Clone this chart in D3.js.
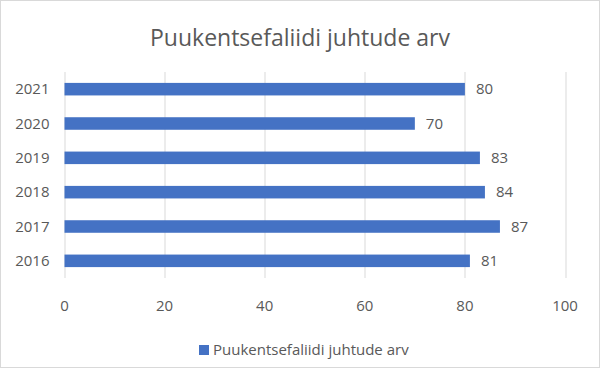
<!DOCTYPE html>
<html>
<head>
<meta charset="utf-8">
<script src="https://cdn.jsdelivr.net/npm/d3@7"></script>
<style>
  body { margin: 0; background: #fff; }
  text { font-family: "Segoe UI", "Open Sans", sans-serif; fill: #595959; }
</style>
</head>
<body>
<div id="chart-area"></div>
<script>
// data
var years = ["2016", "2017", "2018", "2019", "2020", "2021"];
var cases = [81, 87, 84, 83, 70, 80];
var xTicks = [0, 20, 40, 60, 80, 100];
var seriesName = "Puukentsefaliidi juhtude arv";
var chartTitle = "Puukentsefaliidi juhtude arv";

var W = 600, H = 368;
var margin = {top: 72, bottom: 90, right: 35, left: 64.5};
var width = 565 - margin.left;
var height = 278 - margin.top;

var svg = d3.select("#chart-area")
  .append("svg")
  .attr("width", W)
  .attr("height", H);

// outer border
svg.append("rect")
  .attr("x", 0.5).attr("y", 0.5)
  .attr("width", W - 1).attr("height", H - 1)
  .attr("fill", "#fff")
  .attr("stroke", "#d9d9d9");

svg.append("text")
  .attr("x", W / 2)
  .attr("y", 46)
  .attr("text-anchor", "middle")
  .attr("font-size", "23px")
  .text(chartTitle);

var g = svg.append("g")
  .attr("transform", "translate(" + margin.left + "," + margin.top + ")");

var x = d3.scaleLinear().domain([0, 100]).range([0, width]);
var y = d3.scaleBand()
  .domain(years.slice().reverse())
  .range([0, height])
  .paddingInner(0.635)
  .paddingOuter(0.3175);

// gridlines
g.append("g")
  .selectAll("line")
  .data(xTicks)
  .enter()
  .append("line")
  .attr("x1", function(d) { return Math.round(x(d)) + 0.5; })
  .attr("x2", function(d) { return Math.round(x(d)) + 0.5; })
  .attr("y1", 0)
  .attr("y2", height)
  .attr("stroke", "#d9d9d9")
  .attr("stroke-width", 1);

// x tick labels
g.append("g")
  .selectAll("text")
  .data(xTicks)
  .enter()
  .append("text")
  .attr("x", function(d) { return x(d); })
  .attr("y", height + 33)
  .attr("text-anchor", "middle")
  .attr("font-size", "15px")
  .text(function(d) { return d; });

// y labels
g.append("g")
  .selectAll("text")
  .data(years)
  .enter()
  .append("text")
  .attr("x", -15)
  .attr("y", function(d) { return y(d) + y.bandwidth() / 2; })
  .attr("dy", "0.35em")
  .attr("text-anchor", "end")
  .attr("font-size", "15px")
  .text(function(d) { return d; });

// bars
g.append("g")
  .selectAll("rect")
  .data(years)
  .enter()
  .append("rect")
  .attr("x", x(0))
  .attr("y", function(d) { return y(d); })
  .attr("width", function(d, i) { return x(cases[i]) - x(0); })
  .attr("height", y.bandwidth())
  .attr("fill", "#4472c4");

// value labels
g.append("g")
  .selectAll("text")
  .data(years)
  .enter()
  .append("text")
  .attr("x", function(d, i) { return x(cases[i]) + 11; })
  .attr("y", function(d) { return y(d) + y.bandwidth() / 2; })
  .attr("dy", "0.35em")
  .attr("font-size", "15px")
  .text(function(d, i) { return cases[i]; });

// legend
var legend = svg.append("g").attr("transform", "translate(199,350)");
legend.append("rect")
  .attr("x", 0).attr("y", -5)
  .attr("width", 10).attr("height", 10)
  .attr("fill", "#4472c4");
legend.append("text")
  .attr("x", 14)
  .attr("y", 0)
  .attr("dy", "0.35em")
  .attr("font-size", "15px")
  .text(seriesName);
</script>
</body>
</html>
